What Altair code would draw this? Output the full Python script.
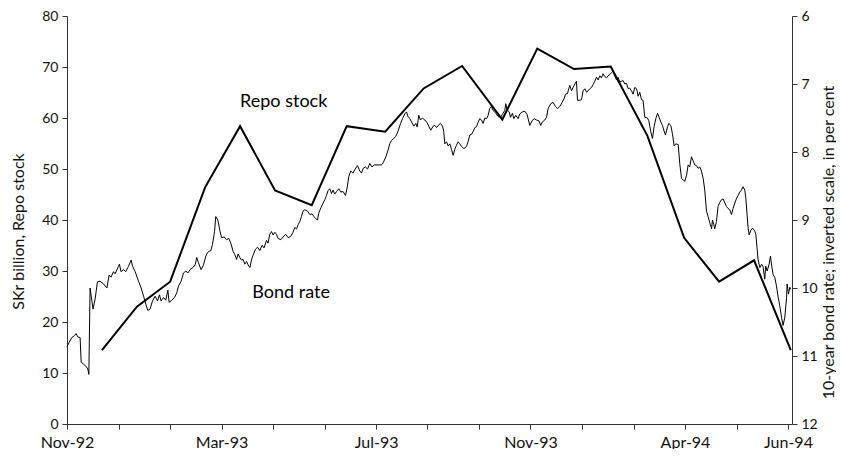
import altair as alt
import pandas as pd

# x positions: trading-day index from the start of the axis (Nov-92)
tick_days = [0, 29.5, 58.9, 88.4, 117.8, 147.3, 176.8, 206.2, 235.7, 265.1, 294.6, 324.1, 353.5, 383.0, 412.4]
tick_labels = ["Nov-92", "", "", "Mar-93", "", "", "Jul-93", "", "", "Nov-93", "", "", "Apr-94", "", "Jun-94"]
left_ticks = [0, 10, 20, 30, 40, 50, 60, 70, 80]
right_ticks = [6, 7, 8, 9, 10, 11, 12]

# Repo stock, SKr billion (month-end values)
repo_day = [20, 40, 59, 79, 99, 119, 140, 160, 182, 204, 226, 249, 269, 290, 311, 332, 353, 373, 393, 414]
repo_value = [14.5, 23.0, 27.9, 46.4, 58.4, 45.8, 42.9, 58.4, 57.3, 65.8,
              70.2, 59.7, 73.6, 69.6, 70.1, 56.5, 36.5, 27.9, 32.1, 14.5]

# 10-year bond rate, per cent (daily)
bond_day = [
    0.0, 1.2, 2.7, 4.3, 5.2, 6.2, 7.5, 8.1, 9.4, 10.8, 11.9, 12.5, 13.2, 14.9, 16.1, 17.4, 18.9, 20.9, 22.8, 24.1,
    25.2, 26.6, 27.5, 29.1, 30.0, 30.9, 32.3, 33.6, 35.2, 36.7, 37.5, 39.0, 40.9, 42.4, 43.8, 45.1, 46.2, 47.5, 48.9, 50.4,
    51.8, 52.9, 53.8, 55.2, 56.5, 57.7, 58.4, 59.9, 61.5, 62.8, 63.8, 65.3, 66.6, 68.0, 69.1, 70.4, 72.0, 73.3, 74.2, 75.2,
    76.7, 78.1, 79.4, 80.4, 81.3, 82.3, 83.2, 84.4, 85.1, 86.3, 87.4, 88.4,
    89.9, 91.2, 92.5, 93.7, 95.0, 96.0, 97.0, 97.9, 98.8, 99.8, 100.7, 101.7, 102.7, 103.6, 104.6, 105.5, 106.4, 107.8, 109.0, 110.3,
    111.6, 112.7, 114.1, 115.0, 116.0, 117.0, 117.9, 118.9, 119.8, 120.7, 122.3, 123.6, 125.0, 126.5, 128.0, 129.3, 130.3, 131.3, 132.2, 133.2,
    134.1, 135.0, 136.0, 137.6, 138.9, 140.2, 141.3, 142.3, 143.3, 144.0, 145.2, 146.5, 147.5, 148.4, 149.3, 150.3, 151.3, 152.2, 153.2, 154.2,
    155.5, 156.6, 157.9, 159.3, 160.2, 161.2, 162.3, 163.6, 164.6, 166.2, 167.5, 168.5, 169.4, 170.7, 171.9, 173.2, 174.5, 175.7,
    177.4, 179.9, 180.8, 182.4, 183.7, 184.6, 185.6, 186.9, 188.1, 189.4, 190.8, 191.9, 193.2, 194.2, 195.1, 196.1, 197.1, 198.4, 199.5, 200.3,
    201.2, 202.2, 203.3, 204.7, 206.0, 207.1, 208.1, 209.4, 210.4, 211.4, 212.3, 213.6, 214.8, 215.5, 216.1, 217.1, 218.0, 219.0, 219.9, 220.9,
    221.8, 222.8, 223.7, 224.7, 225.7, 227.0, 228.5, 229.4, 230.4, 231.4, 232.3, 233.3, 234.2, 235.2, 236.1, 237.1, 238.0, 239.0, 240.0, 240.9,
    241.8, 242.8, 243.7, 245.3, 246.6, 248.0, 249.4, 250.4, 251.0, 251.7, 252.9, 253.7, 254.8, 255.6, 256.7, 258.0, 259.0, 260.5, 261.9, 263.2,
    264.7, 266.0, 267.2, 268.6, 269.9, 271.0, 271.8, 273.3, 274.3, 275.2, 276.7, 278.0, 279.4, 280.6, 281.9, 283.2, 284.3, 285.1, 286.3, 287.0,
    287.6, 288.6, 289.5, 290.5, 291.4, 292.0, 293.3, 294.3, 295.2, 296.2, 297.2, 298.1, 299.0, 300.0, 300.9, 301.9, 302.9, 303.8, 304.8, 305.7,
    306.6, 307.6, 308.6, 309.5, 310.5, 311.5, 312.4, 313.3, 314.3, 315.2, 316.2, 317.2, 318.1, 319.1, 320.0, 321.0, 321.9, 322.9, 323.8, 324.8,
    325.8, 326.7, 327.6, 328.6, 329.5, 330.5, 332.0, 332.8, 333.9, 334.9, 335.8, 336.8, 337.8, 338.7, 339.7, 340.6, 341.5, 342.3, 343.5, 344.2,
    345.4, 346.3, 347.3,
    348.2, 349.6, 350.5, 351.5, 352.4, 353.4, 354.4, 355.3, 356.2, 357.2, 358.1, 359.1, 360.1, 361.0, 362.0, 362.9, 363.9, 364.8, 365.8, 366.7,
    367.7, 368.7, 369.2, 370.0, 370.5, 371.5, 372.4, 373.4, 374.4, 375.3, 376.3, 377.2, 378.1, 379.1, 380.1, 381.0, 382.0, 383.0, 383.9, 384.8,
    385.8, 386.7, 387.7, 388.3, 389.0, 389.6, 390.2, 391.0, 392.1, 393.4, 394.0, 394.7, 395.3, 396.3, 397.3, 398.2, 399.1, 399.7, 400.5, 401.6,
    402.4, 403.1, 403.9, 404.9, 405.8, 406.7, 407.7, 408.7, 409.6, 410.6, 411.6, 411.9, 412.7, 413.4, 414.0,
]
bond_rate = [
    10.86, 10.80, 10.73, 10.70, 10.67, 10.72, 10.73, 11.09, 11.12, 11.15, 11.19, 11.27, 10.00, 10.31, 10.16, 9.91, 9.90, 9.94, 10.00, 9.81,
    9.84, 9.76, 9.79, 9.70, 9.65, 9.76, 9.73, 9.76, 9.68, 9.59, 9.68, 9.76, 9.90, 10.00, 10.12, 10.24, 10.33, 10.31, 10.19, 10.12,
    10.19, 10.10, 10.19, 10.14, 10.18, 10.03, 10.21, 10.18, 10.14, 10.07, 9.97, 9.90, 9.78, 9.75, 9.78, 9.73, 9.70, 9.66, 9.55, 9.63,
    9.73, 9.66, 9.53, 9.48, 9.46, 9.45, 9.36, 9.17, 8.95, 9.00, 9.15, 9.26,
    9.25, 9.29, 9.27, 9.34, 9.46, 9.51, 9.58, 9.50, 9.55, 9.59, 9.58, 9.65, 9.61, 9.66, 9.70, 9.59, 9.52, 9.43, 9.40, 9.45,
    9.37, 9.41, 9.30, 9.34, 9.21, 9.17, 9.22, 9.18, 9.21, 9.27, 9.29, 9.25, 9.21, 9.26, 9.24, 9.18, 9.11, 9.13, 9.07, 9.02,
    8.95, 8.87, 8.85, 8.87, 8.92, 8.91, 8.95, 8.98, 9.00, 8.90, 8.82, 8.75, 8.70, 8.64, 8.57, 8.54, 8.61, 8.56, 8.62, 8.58,
    8.54, 8.59, 8.58, 8.64, 8.53, 8.36, 8.28, 8.31, 8.26, 8.20, 8.28, 8.31, 8.24, 8.22, 8.25, 8.17, 8.22, 8.19,
    8.19, 8.19, 8.16, 8.07, 7.97, 7.88, 7.83, 7.80, 7.77, 7.69, 7.58, 7.51, 7.44, 7.41, 7.48, 7.51, 7.56, 7.62, 7.58, 7.63,
    7.46, 7.53, 7.50, 7.53, 7.57, 7.63, 7.68, 7.62, 7.61, 7.64, 7.61, 7.58, 7.62, 7.70, 7.88, 7.85, 7.91, 7.88, 7.96, 8.05,
    7.96, 7.90, 7.85, 7.88, 7.92, 7.95, 7.92, 7.85, 7.75, 7.74, 7.70, 7.64, 7.63, 7.56, 7.51, 7.53, 7.58, 7.50, 7.51, 7.46,
    7.36, 7.33, 7.39, 7.43, 7.48, 7.49, 7.43, 7.39, 7.29, 7.38, 7.41, 7.49, 7.43, 7.51, 7.46, 7.51, 7.44, 7.41, 7.40, 7.45,
    7.61, 7.54, 7.51, 7.53, 7.54, 7.61, 7.56, 7.53, 7.49, 7.36, 7.29, 7.27, 7.33, 7.36, 7.33, 7.27, 7.22, 7.15, 7.14, 7.07,
    7.02, 7.10, 7.05, 7.00, 6.96, 7.24, 7.24, 7.23, 7.10, 7.07, 7.12, 7.10, 7.07, 7.05, 7.01, 6.96, 6.90, 6.94, 6.88, 6.91,
    6.85, 6.89, 6.91, 6.88, 6.86, 6.83, 6.81, 6.88, 6.94, 6.90, 6.97, 6.96, 6.95, 7.00, 6.99, 7.07, 7.06, 7.10, 7.15, 7.05,
    7.07, 7.18, 7.12, 7.23, 7.24, 7.49, 7.50, 7.54, 7.70, 7.80, 7.63, 7.51, 7.43, 7.49, 7.56, 7.61, 7.69, 7.75, 7.63, 7.58,
    7.61, 7.73, 7.91,
    7.88, 7.89, 8.17, 8.39, 8.41, 8.43, 8.34, 8.19, 8.22, 8.07, 8.13, 8.19, 8.20, 8.24, 8.22, 8.28, 8.39, 8.56, 8.87, 8.95,
    9.04, 9.13, 9.00, 9.07, 9.13, 9.02, 8.80, 8.74, 8.70, 8.69, 8.75, 8.80, 8.83, 8.85, 8.92, 8.83, 8.75, 8.68, 8.64, 8.59,
    8.56, 8.51, 8.56, 8.68, 8.92, 9.12, 9.22, 9.16, 9.12, 9.16, 9.21, 9.41, 9.58, 9.70, 9.65, 9.69, 9.87, 9.68, 9.75, 9.65,
    9.53, 9.68, 9.80, 9.85, 9.97, 10.12, 10.26, 10.43, 10.55, 10.43, 10.14, 9.94, 10.09, 9.99, 10.02,
]

# in-chart series labels (anchored in left-axis units)
label_text = ["Repo stock", "Bond rate"]
label_day = [99, 106]
label_value = [63.1, 25.7]

repo_df = pd.DataFrame({"day": repo_day, "value": repo_value})
bond_df = pd.DataFrame({"day": bond_day, "rate": bond_rate})
lab_df = pd.DataFrame({"day": label_day, "value": label_value, "label": label_text})

FONT = "Lato"
AX_COLOR = "#333333"
TXT_COLOR = "#111111"

label_expr = "[" + ",".join("'%s'" % s for s in tick_labels) + "][round(datum.value / 29.46)]"

x_enc = alt.X(
    "day:Q",
    scale=alt.Scale(domain=[0, 414.7], nice=False, zero=False),
    axis=alt.Axis(
        values=tick_days, labelExpr=label_expr, title=None, grid=False,
        tickSize=5, tickColor=AX_COLOR, domainColor=AX_COLOR,
        labelFont=FONT, labelFontSize=16, labelColor=TXT_COLOR,
        labelPadding=5, labelFlush=False, labelOverlap=False,
    ),
)

y_left = alt.Y(
    "value:Q",
    scale=alt.Scale(domain=[0, 80], nice=False, zero=True),
    axis=alt.Axis(
        orient="left", values=left_ticks, grid=False, format="d",
        tickSize=5, tickColor=AX_COLOR, domainColor=AX_COLOR,
        labelFont=FONT, labelFontSize=14, labelColor=TXT_COLOR, labelPadding=4,
        title="SKr billion, Repo stock", titleFont=FONT, titleFontSize=16,
        titleFontWeight="normal", titleColor=TXT_COLOR,
        titleAngle=270, titleAlign="center", titleBaseline="middle",
        titleX=-49, titleY=215,
    ),
)

y_right = alt.Y(
    "rate:Q",
    scale=alt.Scale(domain=[6, 12], reverse=True, nice=False, zero=False),
    axis=alt.Axis(
        orient="right", values=right_ticks, grid=False, format="d",
        tickSize=5, tickColor=AX_COLOR, domainColor=AX_COLOR,
        labelFont=FONT, labelFontSize=14, labelColor=TXT_COLOR, labelPadding=4,
        title="10-year bond rate; inverted scale, in per cent", titleFont=FONT,
        titleFontSize=16, titleFontWeight="normal", titleColor=TXT_COLOR,
        titleAngle=270, titleAlign="center", titleBaseline="middle",
        titleX=36, titleY=226,
    ),
)

repo = alt.Chart(repo_df).mark_line(color="black", strokeWidth=2).encode(x=x_enc, y=y_left)
labels = alt.Chart(lab_df).mark_text(
    align="left", baseline="middle", font=FONT, fontSize=18, color="black"
).encode(x=x_enc, y=y_left, text="label:N")
bond = alt.Chart(bond_df).mark_line(color="black", strokeWidth=1).encode(x=x_enc, y=y_right)

chart = (
    alt.layer(alt.layer(repo, labels), bond)
    .resolve_scale(y="independent")
    .properties(
        width=725, height=408,
        autosize=alt.AutoSizeParams(type="none"),
        padding={"left": 59, "top": 8, "right": 44, "bottom": 25},
        background="white",
    )
    .configure_view(stroke=None)
)

chart.save("out.html", embed_options={"renderer": "svg", "actions": False})
